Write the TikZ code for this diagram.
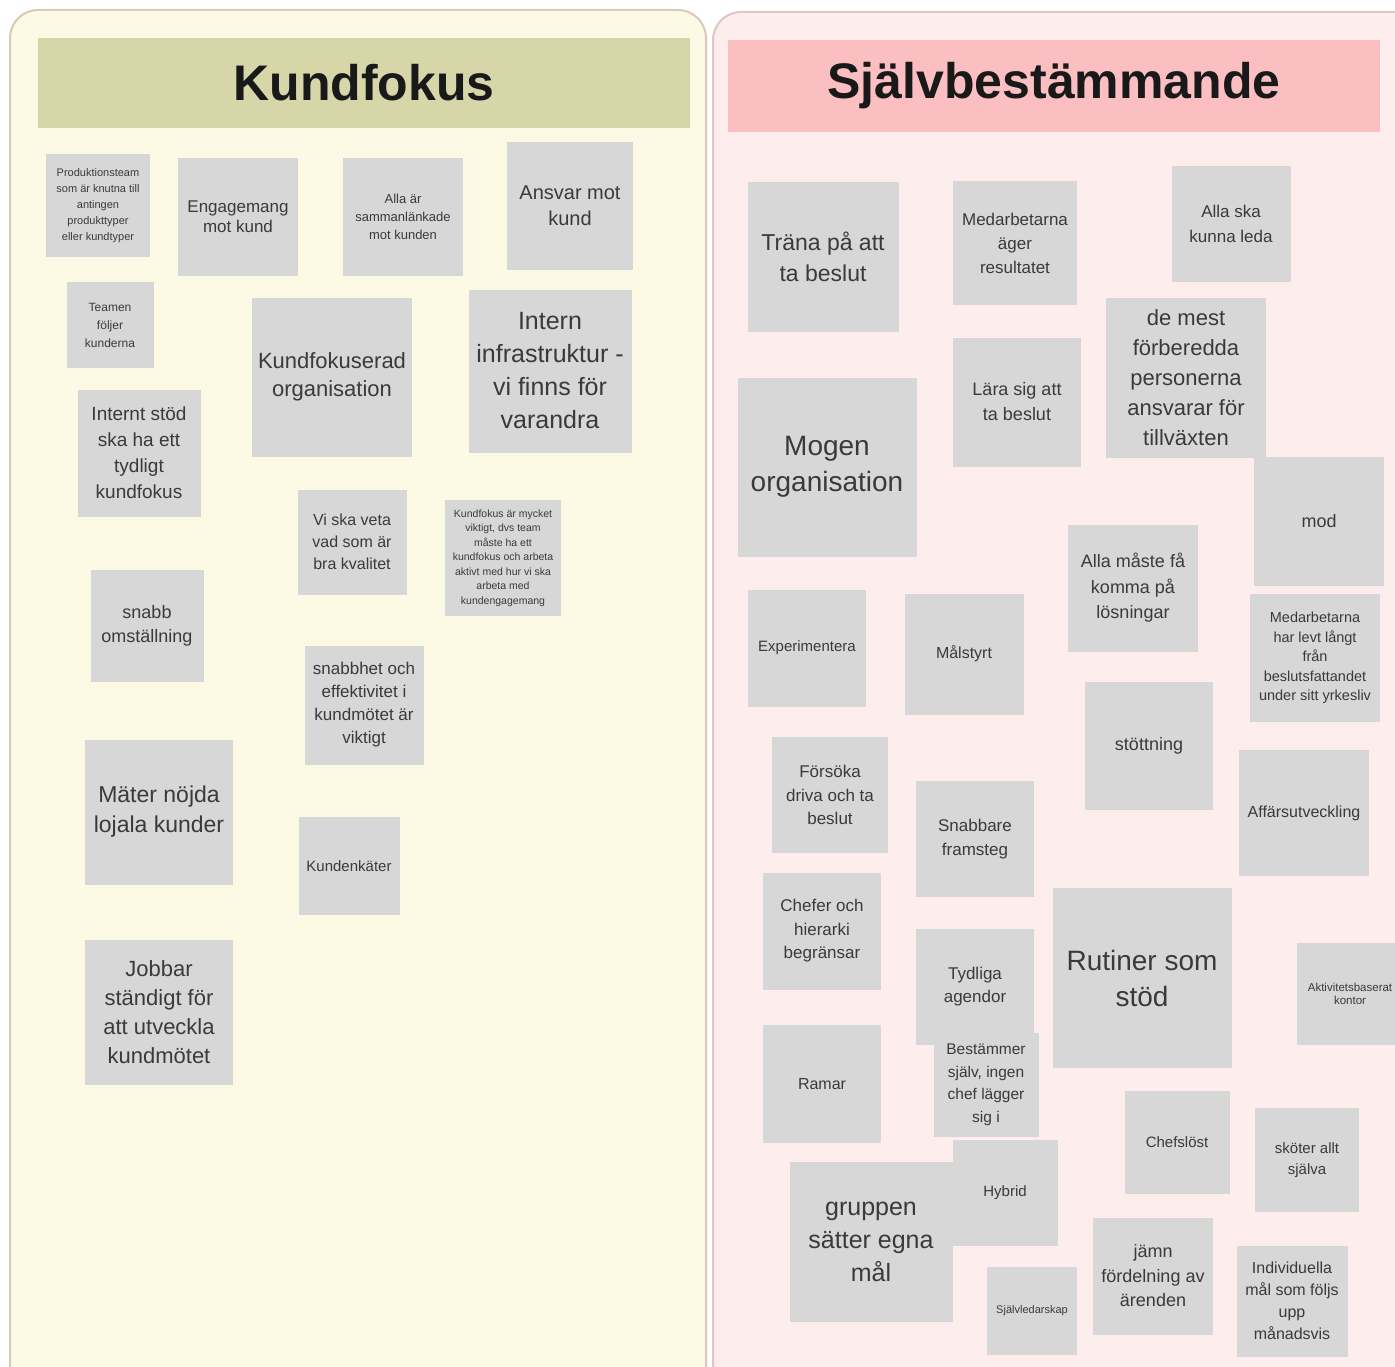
\documentclass[tikz,border=0pt]{standalone}
\usepackage{fontspec}
\setmainfont{Liberation Sans}
\usepackage{xcolor}
\usepackage{tikz}

\newcommand{\fsz}[2]{\fontsize{#1}{#2}\selectfont}

\definecolor{kfback}{HTML}{FCFAE4}
\definecolor{kfhead}{HTML}{D6D6A8}
\definecolor{kfedge}{HTML}{DCC8B8}
\definecolor{sbback}{HTML}{FDEDED}
\definecolor{sbhead}{HTML}{FBBFC2}
\definecolor{sbedge}{HTML}{DCC6C6}
\definecolor{notegray}{HTML}{D7D7D7}
\definecolor{notetext}{HTML}{3A3A3A}

\tikzset{
    panel/.style={
        draw,
        line width=2pt,
        rounded corners=28pt
    },
    header/.style={
        rectangle,
        inner sep=0pt,
        minimum width=652,
        font=\fsz{50}{60}\bfseries,
        text=black!90
    },
    sticky/.style={
        rectangle,
        fill=notegray,
        text=notetext,
        align=center,
        inner sep=0pt
    }
}

\begin{document}
\begin{tikzpicture}[x=1pt, y=-1pt]

\useasboundingbox (0,0) rectangle (1395,1367);
\clip (0,0) rectangle (1395,1367);

% Board panels
\draw[panel, draw=kfedge, fill=kfback] (10,10) rectangle (706,1420);
\draw[panel, draw=sbedge, fill=sbback] (713,12) rectangle (1430,1420);

\node[header, fill=kfhead, minimum height=90] (kf_head) at (364,83) {Kundfokus};
\node[header, fill=sbhead, minimum height=92] (sb_head) at (1054,86) {Självbestämmande};

% Kundfokus notes
\node[sticky, minimum width=104, minimum height=103, font=\fsz{11}{16}] (prod_note) at (98,206)
    {Produktionsteam\\som är knutna till\\antingen\\produkttyper\\eller kundtyper};
\node[sticky, minimum width=120, minimum height=118, font=\fsz{17}{20}] (eng_note) at (238,217)
    {Engagemang\\mot kund};
\node[sticky, minimum width=120, minimum height=118, font=\fsz{13}{18}] (alla_note) at (403,217)
    {Alla är\\sammanlänkade\\mot kunden};
\node[sticky, minimum width=126, minimum height=127, font=\fsz{20}{26}] (ansvar_note) at (570,206)
    {Ansvar mot\\kund};
\node[sticky, minimum width=87, minimum height=86, font=\fsz{12}{18}] (teamen_note) at (110,325)
    {Teamen\\följer\\kunderna};
\node[sticky, minimum width=160, minimum height=159, font=\fsz{22}{28}] (kforg_note) at (332,377)
    {Kundfokuserad\\organisation};
\node[sticky, minimum width=163, minimum height=163, font=\fsz{25}{33}] (intern_note) at (550,371)
    {Intern\\infrastruktur -\\vi finns för\\varandra};
\node[sticky, minimum width=123, minimum height=127, font=\fsz{19}{26}] (stod_note) at (139,453)
    {Internt stöd\\ska ha ett\\tydligt\\kundfokus};
\node[sticky, minimum width=109, minimum height=105, font=\fsz{16}{22}] (kval_note) at (352,542)
    {Vi ska veta\\vad som är\\bra kvalitet};
\node[sticky, minimum width=116, minimum height=116, font=\fsz{10.5}{14.5}] (viktigt_note) at (503,558)
    {Kundfokus är mycket\\viktigt, dvs team\\måste ha ett\\kundfokus och arbeta\\aktivt med hur vi ska\\arbeta med\\kundengagemang};
\node[sticky, minimum width=113, minimum height=112, font=\fsz{18}{24}] (snabb_note) at (147,626)
    {snabb\\omställning};
\node[sticky, minimum width=119, minimum height=119, font=\fsz{17}{23}] (mote_note) at (364,705)
    {snabbhet och\\effektivitet i\\kundmötet är\\viktigt};
\node[sticky, minimum width=148, minimum height=145, font=\fsz{23}{30}] (nojda_note) at (159,812)
    {Mäter nöjda\\lojala kunder};
\node[sticky, minimum width=101, minimum height=98, font=\fsz{15}{20}] (enkat_note) at (349,866)
    {Kundenkäter};
\node[sticky, minimum width=148, minimum height=145, font=\fsz{22}{29}] (jobbar_note) at (159,1012)
    {Jobbar\\ständigt för\\att utveckla\\kundmötet};

% Självbestämmande notes
\node[sticky, minimum width=151, minimum height=150, font=\fsz{23}{31}] (trana_note) at (823,257)
    {Träna på att\\ta beslut};
\node[sticky, minimum width=124, minimum height=123, font=\fsz{17}{24}] (ager_note) at (1015,243)
    {Medarbetarna\\äger\\resultatet};
\node[sticky, minimum width=119, minimum height=116, font=\fsz{17}{25}] (leda_note) at (1231,224)
    {Alla ska\\kunna leda};
\node[sticky, minimum width=160, minimum height=160, font=\fsz{22}{30}] (mest_note) at (1186,378)
    {de mest\\förberedda\\personerna\\ansvarar för\\tillväxten};
\node[sticky, minimum width=179, minimum height=179, font=\fsz{28}{36}] (mogen_note) at (827,467)
    {Mogen\\organisation};
\node[sticky, minimum width=128, minimum height=129, font=\fsz{18}{25}] (lara_note) at (1017,402)
    {Lära sig att\\ta beslut};
\node[sticky, minimum width=130, minimum height=129, font=\fsz{18}{24}] (mod_note) at (1319,521)
    {mod};
\node[sticky, minimum width=130, minimum height=127, font=\fsz{18}{25.5}] (losning_note) at (1133,588)
    {Alla måste få\\komma på\\lösningar};
\node[sticky, minimum width=118, minimum height=117, font=\fsz{15}{20}] (exp_note) at (807,648)
    {Experimentera};
\node[sticky, minimum width=119, minimum height=121, font=\fsz{16}{20}] (malstyrt_note) at (964,654)
    {Målstyrt};
\node[sticky, minimum width=130, minimum height=128, font=\fsz{14.5}{19.5}] (levt_note) at (1315,658)
    {Medarbetarna\\har levt långt\\från\\beslutsfattandet\\under sitt yrkesliv};
\node[sticky, minimum width=128, minimum height=128, font=\fsz{18}{24}] (stott_note) at (1149,746)
    {stöttning};
\node[sticky, minimum width=116, minimum height=116, font=\fsz{17}{23.5}] (forsoka_note) at (830,795)
    {Försöka\\driva och ta\\beslut};
\node[sticky, minimum width=130, minimum height=126, font=\fsz{16}{20}] (affar_note) at (1304,813)
    {Affärsutveckling};
\node[sticky, minimum width=118, minimum height=116, font=\fsz{17}{24}] (framsteg_note) at (975,839)
    {Snabbare\\framsteg};
\node[sticky, minimum width=118, minimum height=117, font=\fsz{17}{23.5}] (chefer_note) at (822,931)
    {Chefer och\\hierarki\\begränsar};
\node[sticky, minimum width=179, minimum height=180, font=\fsz{28}{36}] (rutiner_note) at (1142,978)
    {Rutiner som\\stöd};
\node[sticky, minimum width=118, minimum height=116, font=\fsz{17}{23}] (agenda_note) at (975,987)
    {Tydliga\\agendor};
\node[sticky, minimum width=106, minimum height=102, font=\fsz{11.5}{13}] (kontor_note) at (1350,994)
    {Aktivitetsbaserat\\kontor};
\node[sticky, minimum width=118, minimum height=118, font=\fsz{16}{20}] (ramar_note) at (822,1084)
    {Ramar};
\node[sticky, minimum width=105, minimum height=104, font=\fsz{15.5}{22.5}] (bestam_note) at (986,1085)
    {Bestämmer\\själv, ingen\\chef lägger\\sig i};
\node[sticky, minimum width=105, minimum height=103, font=\fsz{15}{20}] (chefslos_note) at (1177,1142)
    {Chefslöst};
\node[sticky, minimum width=104, minimum height=104, font=\fsz{15}{21}] (skoter_note) at (1307,1160)
    {sköter allt\\själva};
\node[sticky, minimum width=163, minimum height=160, font=\fsz{25}{33}] (gruppen_note) at (871,1242)
    {gruppen\\sätter egna\\mål};
\node[sticky, minimum width=105, minimum height=106, font=\fsz{15}{20}] (hybrid_note) at (1005,1193)
    {Hybrid};
\node[sticky, minimum width=120, minimum height=117, font=\fsz{18}{24.5}] (jamn_note) at (1153,1276)
    {jämn\\fördelning av\\ärenden};
\node[sticky, minimum width=90, minimum height=88, font=\fsz{11}{14}] (ledar_note) at (1032,1311)
    {Självledarskap};
\node[sticky, minimum width=111, minimum height=111, font=\fsz{16}{22}] (indiv_note) at (1292,1301)
    {Individuella\\mål som följs\\upp\\månadsvis};

\end{tikzpicture}
\end{document}
